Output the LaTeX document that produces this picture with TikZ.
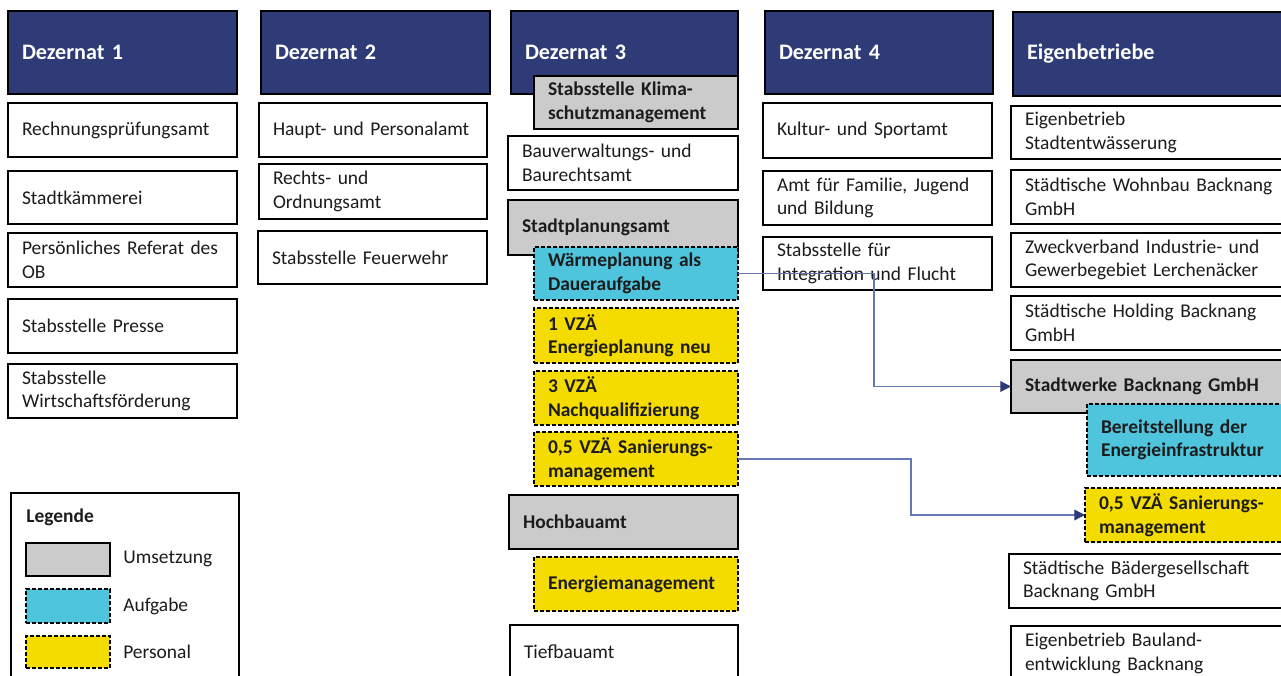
\documentclass[tikz,border=0pt]{standalone}
\usepackage{fontspec}
\setmainfont{Carlito}
\usetikzlibrary{arrows.meta}

\definecolor{navy}{HTML}{2E3B77}
\definecolor{taskcyan}{HTML}{4FC4DD}
\definecolor{staffyellow}{HTML}{F4DB00}
\definecolor{implgray}{HTML}{CBCBCB}
\definecolor{linkblue}{HTML}{6676B2}
\definecolor{ink}{HTML}{1C1C1C}

\newcommand{\bodyfont}{\fontsize{14.6pt}{17.6pt}\selectfont}
\newcommand{\headfont}{\fontsize{16.6pt}{19pt}\selectfont\bfseries}

% box: [style] name, left x, top y, width, height (all in px), text
\newcommand{\orgbox}[7][]{%
  \pgfmathsetlengthmacro{\boxtw}{#5*0.75pt-21pt}%
  \node[orgnode,#1,minimum width=#5*0.75pt,minimum height=#6*0.75pt,
        text width=\boxtw] (#2) at (#3,#4) {#7};}

\begin{document}
\begin{tikzpicture}[x=0.75pt,y=-0.75pt,
  orgnode/.style={draw=black,line width=1.5pt,fill=white,anchor=north west,
    outer sep=0pt,inner xsep=10.5pt,inner ysep=0pt,align=left,
    font=\bodyfont,text=ink},
  headbox/.style={fill=navy,text=white,font=\headfont},
  implbox/.style={fill=implgray,font=\bodyfont\bfseries},
  taskbox/.style={fill=taskcyan,font=\bodyfont\bfseries,line width=1.1pt,
    dash pattern=on 3pt off 1.5pt},
  staffbox/.style={fill=staffyellow,font=\bodyfont\bfseries,line width=1.1pt,
    dash pattern=on 3pt off 1.5pt},
  link/.style={draw=linkblue,line width=0.9pt,
    -{Triangle[length=8pt,width=8pt,color=navy]}},
  legendlabel/.style={anchor=west,font=\bodyfont,text=ink,inner sep=0pt}]

\useasboundingbox (0,0) rectangle (1281,675);
\clip (0,0) rectangle (1281,675);
\fill[white] (0,0) rectangle (1281,675);

% Dezernat 1
\orgbox[headbox]{dez1}{8}{11}{229}{83}{Dezernat 1}
\orgbox{rpa}{8}{103}{229}{54}{Rechnungsprüfungsamt}
\orgbox{kaem}{8}{171}{229}{53}{Stadtkämmerei}
\orgbox{refob}{8}{233}{229}{54}{Persönliches Referat des\\OB}
\orgbox{presse}{8}{299}{229}{54}{Stabsstelle Presse}
\orgbox{wifoe}{8}{364}{229}{54}{Stabsstelle\\Wirtschaftsförderung}

% Dezernat 2
\orgbox[headbox]{dez2}{261}{11}{229}{83}{Dezernat 2}
\orgbox{hpa}{259}{103}{228}{54}{Haupt- und Personalamt}
\orgbox{roa}{259}{164}{228}{55}{Rechts- und\\Ordnungsamt}
\orgbox{fw}{258}{231}{229}{53}{Stabsstelle Feuerwehr}

% Dezernat 3
\orgbox[headbox]{dez3}{511}{11}{227}{83}{Dezernat 3}
\orgbox[implbox]{klima}{534}{76}{204}{53}{Stabsstelle Klima-\\schutzmanagement}
\orgbox{bauv}{508}{136}{230}{54}{Bauverwaltungs- und\\Baurechtsamt}
\orgbox[implbox]{stpl}{508}{200}{230}{55}{Stadtplanungsamt}
\orgbox[taskbox]{waerme}{534}{247}{204}{53}{Wärmeplanung als\\Daueraufgabe}
\orgbox[staffbox]{vzaone}{534}{308}{204}{55}{1 VZÄ\\Energieplanung neu}
\orgbox[staffbox]{vzathree}{534}{371}{204}{54}{3 VZÄ\\Nachqualifizierung}
\orgbox[staffbox]{vzahalf}{534}{432}{204}{54}{0,5 VZÄ Sanierungs-\\management}
\orgbox[implbox]{hochbau}{509}{495}{229}{54}{Hochbauamt}
\orgbox[staffbox]{emgmt}{534}{557}{204}{54}{Energiemanagement}
\orgbox{tiefbau}{510}{625}{228}{54}{Tiefbauamt}

% Dezernat 4
\orgbox[headbox]{dez4}{765}{11}{228}{83}{Dezernat 4}
\orgbox{kultur}{763}{103}{229}{55}{Kultur- und Sportamt}
\orgbox{familie}{763}{171}{229}{54}{Amt für Familie, Jugend\\und Bildung}
\orgbox{integr}{763}{237}{229}{53}{Stabsstelle für\\Integration und Flucht}

% Eigenbetriebe
\orgbox[headbox]{eigen}{1013}{12}{290}{84}{Eigenbetriebe}
\orgbox{entw}{1011}{106}{290}{53}{Eigenbetrieb\\Stadtentwässerung}
\orgbox{wohnbau}{1011}{170}{290}{54}{Städtische Wohnbau Backnang\\GmbH}
\orgbox{zweck}{1011}{233}{290}{54}{Zweckverband Industrie- und\\Gewerbegebiet Lerchenäcker}
\orgbox{holding}{1011}{296}{290}{54}{Städtische Holding Backnang\\GmbH}
\orgbox[implbox]{swerke}{1011}{360}{290}{53}{Stadtwerke Backnang GmbH}
\orgbox[taskbox]{bereit}{1087}{404}{210}{72}{Bereitstellung der\\Energieinfrastruktur}
\orgbox[staffbox]{vzaright}{1085}{488}{215}{54}{0,5 VZÄ Sanierungs-\\management}
\orgbox{baeder}{1009}{554}{290}{54}{Städtische Bädergesellschaft\\Backnang GmbH}
\orgbox{bauland}{1011}{626}{290}{55}{Eigenbetrieb Bauland-\\entwicklung Backnang}

% Legend
\node[draw=black,line width=1.5pt,anchor=north west,outer sep=0pt,
      minimum width=228*0.75pt,minimum height=195*0.75pt] (legend) at (11,493) {};
\node[legendlabel,font=\bodyfont\bfseries] (legtitle) at (26,517) {Legende};
\node[draw=black,line width=1.5pt,fill=implgray,anchor=north west,outer sep=0pt,
      minimum width=84*0.75pt,minimum height=33*0.75pt] (swimpl) at (26,543) {};
\node[draw=black,line width=1.1pt,dash pattern=on 3pt off 1.5pt,fill=taskcyan,
      anchor=north west,outer sep=0pt,
      minimum width=84*0.75pt,minimum height=34*0.75pt] (swtask) at (26,589) {};
\node[draw=black,line width=1.1pt,dash pattern=on 3pt off 1.5pt,fill=staffyellow,
      anchor=north west,outer sep=0pt,
      minimum width=84*0.75pt,minimum height=32*0.75pt] (swstaff) at (26,636) {};
\node[legendlabel] (lbimpl) at (123,559) {Umsetzung};
\node[legendlabel] (lbtask) at (123,606) {Aufgabe};
\node[legendlabel] (lbstaff) at (123,652) {Personal};

% Connectors
\coordinate (bendA) at (874,0);
\coordinate (bendB) at (911,0);
\draw[link] (waerme.east) -- (waerme.east -| bendA) -- (bendA |- swerke.west) -- (swerke.west);
\draw[link] (vzahalf.east) -- (vzahalf.east -| bendB) -- (bendB |- vzaright.west) -- (vzaright.west);

\end{tikzpicture}
\end{document}
